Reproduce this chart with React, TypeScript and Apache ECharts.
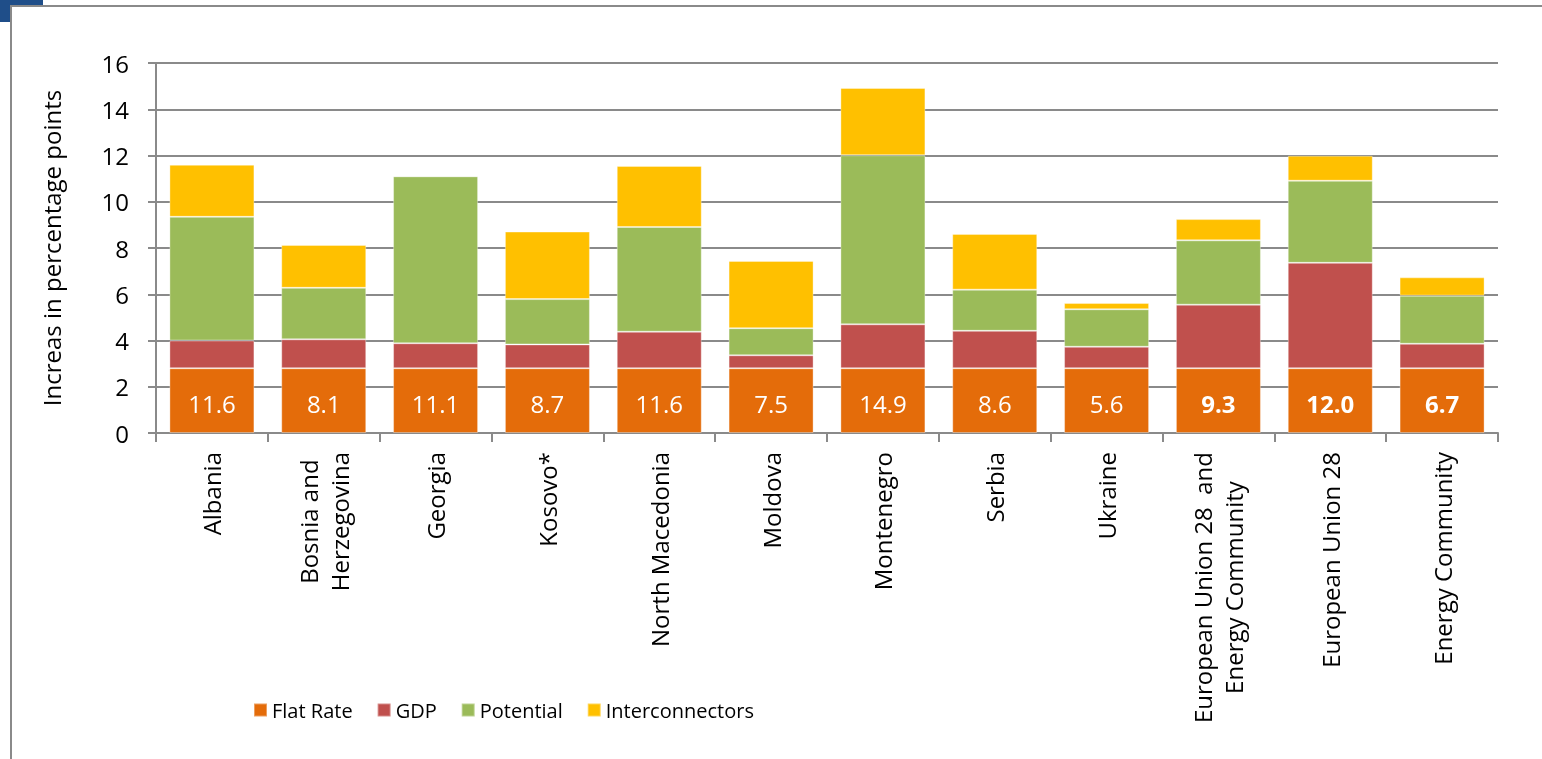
import React, { useEffect, useRef } from 'react';
import * as echarts from 'echarts';

const categories = [
  'Albania',
  'Bosnia and\nHerzegovina',
  'Georgia',
  'Kosovo*',
  'North Macedonia',
  'Moldova',
  'Montenegro',
  'Serbia',
  'Ukraine',
  'European Union 28  and\nEnergy Community',
  'European Union 28',
  'Energy Community',
];
const flatRate = [2.8, 2.8, 2.8, 2.8, 2.8, 2.8, 2.8, 2.8, 2.8, 2.8, 2.8, 2.8];
const gdp = [1.2, 1.25, 1.08, 1.03, 1.58, 0.56, 1.9, 1.62, 0.93, 2.75, 4.56, 1.06];
const potential = [5.35, 2.23, 7.22, 1.96, 4.53, 1.17, 7.31, 1.78, 1.62, 2.78, 3.55, 2.08];
const interconnectors = [2.25, 1.85, 0, 2.92, 2.64, 2.91, 2.91, 2.41, 0.27, 0.92, 1.08, 0.79];
const totalLabels = ['11.6', '8.1', '11.1', '8.7', '11.6', '7.5', '14.9', '8.6', '5.6', '9.3', '12.0', '6.7'];
const boldLabels = [false, false, false, false, false, false, false, false, false, true, true, true];

const FONT = '"Open Sans", "Noto Sans", sans-serif';
const GRAY = '#8a8a8a';

export default function App() {
  const ref = useRef<HTMLDivElement>(null);
  useEffect(() => {
    if (!ref.current) return;
    const chart = echarts.init(ref.current, null, { renderer: 'svg' });
    const barBorder = { borderColor: 'rgba(255,255,255,0.35)', borderWidth: 1 };
    chart.setOption({
      animation: false,
      textStyle: { fontFamily: FONT },
      graphic: [
        { type: 'rect', z: -20, silent: true, shape: { x: 0, y: 0, width: 43, height: 22 }, style: { fill: '#1F4E89' } },
        {
          type: 'rect', z: -19, silent: true,
          shape: { x: 11, y: 6, width: 1600, height: 800 },
          style: { fill: '#ffffff', stroke: GRAY, lineWidth: 2 },
        },
      ],
      grid: { left: 156, right: 44, top: 63, bottom: 326, containLabel: false },
      legend: {
        left: 253,
        top: 700,
        padding: 0,
        icon: 'rect',
        itemWidth: 13,
        itemHeight: 13,
        itemGap: 24,
        textStyle: { fontSize: 20, color: '#000', fontFamily: FONT },
        data: ['Flat Rate', 'GDP', 'Potential', 'Interconnectors'],
      },
      xAxis: {
        type: 'category',
        data: categories,
        axisLine: { lineStyle: { color: GRAY, width: 2 } },
        axisTick: { show: true, alignWithLabel: false, length: 9, lineStyle: { color: GRAY, width: 2 } },
        axisLabel: {
          interval: 0,
          rotate: 90,
          margin: 19,
          color: '#000',
          fontSize: 24,
          fontFamily: FONT,
          formatter: (v: string) => v.split('\n').map((s) => `{c|${s}}`).join('\n'),
          rich: { c: { align: 'center', fontSize: 24, lineHeight: 31, fontFamily: FONT, color: '#000' } },
        },
      },
      yAxis: {
        type: 'value',
        min: 0,
        max: 16,
        interval: 2,
        name: 'Increas in percentage points',
        nameLocation: 'middle',
        nameGap: 93,
        nameTextStyle: { fontSize: 24, color: '#000', fontFamily: FONT },
        axisLine: { show: true, lineStyle: { color: GRAY, width: 2 } },
        axisTick: { show: true, length: 8, lineStyle: { color: GRAY, width: 2 } },
        splitLine: { lineStyle: { color: GRAY, width: 2 } },
        axisLabel: { fontSize: 24, color: '#000', margin: 27, fontFamily: FONT },
      },
      series: [
        {
          name: 'Flat Rate',
          type: 'bar',
          stack: 'total',
          barCategoryGap: '24%',
          itemStyle: { color: '#E46C0A', ...barBorder },
          data: flatRate.map((v, i) => ({
            value: v,
            label: {
              show: true,
              position: 'inside',
              offset: [0, 3],
              formatter: totalLabels[i],
              color: '#fff',
              fontSize: 24,
              fontFamily: FONT,
              fontWeight: boldLabels[i] ? 'bold' : 'normal',
            },
          })),
        },
        { name: 'GDP', type: 'bar', stack: 'total', itemStyle: { color: '#C0504D', ...barBorder }, data: gdp },
        { name: 'Potential', type: 'bar', stack: 'total', itemStyle: { color: '#9BBB59', ...barBorder }, data: potential },
        { name: 'Interconnectors', type: 'bar', stack: 'total', itemStyle: { color: '#FFC000', ...barBorder }, data: interconnectors },
      ],
    });
    return () => chart.dispose();
  }, []);
  return <div ref={ref} style={{ position: 'fixed', left: 0, top: 0, width: 1542, height: 759 }} />;
}
